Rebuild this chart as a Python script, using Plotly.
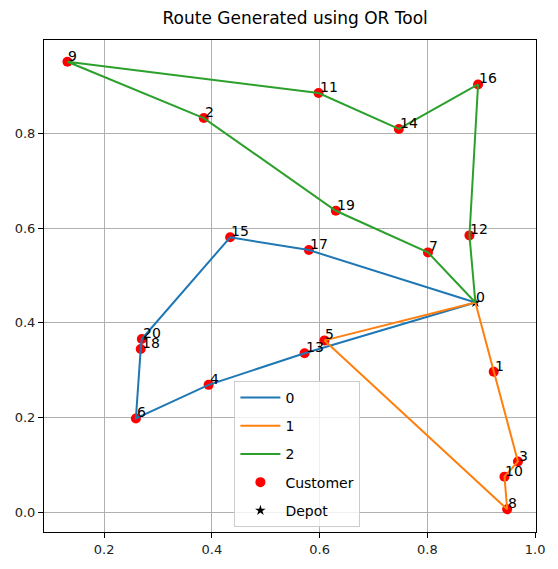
import plotly.graph_objects as go

# Node coordinates (index = node id, 0 = depot)
node_x = [0.889, 0.923, 0.385, 0.968, 0.394, 0.609, 0.259, 0.801, 0.948, 0.132, 0.943,
          0.598, 0.878, 0.572, 0.747, 0.434, 0.894, 0.580, 0.268, 0.630, 0.270]
node_y = [0.443, 0.297, 0.833, 0.107, 0.269, 0.363, 0.198, 0.549, 0.006, 0.952, 0.075,
          0.886, 0.585, 0.336, 0.810, 0.581, 0.904, 0.554, 0.345, 0.637, 0.366]

# Routes (vehicle -> sequence of node ids)
route_names = ["0", "1", "2"]
routes = [
    [0, 17, 15, 20, 18, 6, 4, 13, 0],
    [0, 5, 8, 10, 3, 1, 0],
    [0, 7, 19, 2, 9, 11, 14, 16, 12, 0],
]
route_colors = ["#1f77b4", "#ff7f0e", "#2ca02c"]

FONT = "DejaVu Sans"
fig = go.Figure()

# Customers (drawn beneath lines)
cust_ids = list(range(1, len(node_x)))
fig.add_trace(go.Scatter(
    x=[node_x[i] for i in cust_ids], y=[node_y[i] for i in cust_ids],
    mode="markers", name="Customer",
    marker=dict(color="red", size=10, line=dict(width=0)),
    legendrank=4, legendgroup="c",
))
# Depot
fig.add_trace(go.Scatter(
    x=[node_x[0]], y=[node_y[0]], mode="markers", name="Depot",
    marker=dict(color="black", symbol="star", size=8, line=dict(width=0)),
    legendrank=5, legendgroup="d",
))
# Routes
for k, (nm, r, c) in enumerate(zip(route_names, routes, route_colors)):
    fig.add_trace(go.Scatter(
        x=[node_x[i] for i in r], y=[node_y[i] for i in r],
        mode="lines", name=nm, line=dict(color=c, width=2),
        legendrank=k + 1, legendgroup="r" + nm,
    ))

# Node labels
for i, (xv, yv) in enumerate(zip(node_x, node_y)):
    fig.add_annotation(x=xv, y=yv, text=str(i), showarrow=False,
                       xanchor="left", yanchor="bottom", xshift=-1, yshift=-4,
                       font=dict(family=FONT, size=14, color="black"))

axis_common = dict(
    showgrid=True, gridcolor="#b0b0b0", gridwidth=1,
    showline=True, linecolor="black", linewidth=1, mirror=True,
    ticks="outside", ticklen=5, tickcolor="black", tickwidth=1,
    zeroline=False, tickfont=dict(family=FONT, size=13, color="#222"),
)
fig.update_xaxes(range=[0.0885, 1.0015], tickvals=[0.2, 0.4, 0.6, 0.8, 1.0],
                 ticktext=["0.2", "0.4", "0.6", "0.8", "1.0"], **axis_common)
fig.update_yaxes(range=[-0.042, 0.998], tickvals=[0.0, 0.2, 0.4, 0.6, 0.8],
                 ticktext=["0.0", "0.2", "0.4", "0.6", "0.8"], **axis_common)

fig.update_layout(
    width=558, height=569,
    margin=dict(l=44, r=15, t=40, b=31),
    paper_bgcolor="white", plot_bgcolor="white",
    font=dict(family=FONT, color="black"),
    title=dict(text="Route Generated using OR Tool", x=0.529, xanchor="center",
               y=0.968, yanchor="middle", font=dict(family=FONT, size=17, color="black")),
    legend=dict(x=0.387, y=0.307, xanchor="left", yanchor="top",
                bgcolor="rgba(255,255,255,0.8)", bordercolor="#cccccc", borderwidth=1,
                font=dict(family=FONT, size=14, color="black"),
                traceorder="grouped", tracegroupgap=7, itemwidth=40),
)

fig.write_html("out.html")
